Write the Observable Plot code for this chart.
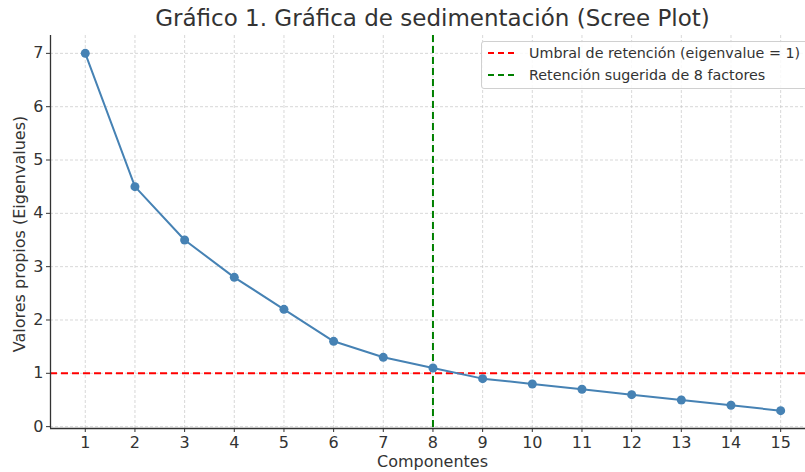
<!DOCTYPE html>
<html>
<head>
<meta charset="utf-8">
<script src="https://cdn.jsdelivr.net/npm/d3@7"></script>
<script src="https://cdn.jsdelivr.net/npm/@observablehq/plot@0.6"></script>
<style>
  html, body { margin: 0; padding: 0; background: #fff; }
  body { width: 805px; height: 472px; overflow: hidden; position: relative; font-family: "DejaVu Sans", sans-serif; color: #333; }
  #title { height: 33px; line-height: 36px; text-align: center; font-size: 23px; color: #333; width: 865px; white-space: nowrap; }
  #xlabel { position: absolute; top: 452px; left: 0; width: 865px; text-align: center; font-size: 16px; color: #333; }
  #ylabel { position: absolute; left: 19px; top: 234px; transform: translate(-50%, -50%) rotate(-90deg); font-size: 16px; white-space: nowrap; color: #333; }
  #legend { position: absolute; left: 481px; top: 41px; width: 340px; height: 46px; border: 1px solid #d0d0d0; border-radius: 3px; background: rgba(255,255,255,0.85); }
  .row { position: absolute; left: 6px; height: 20px; display: flex; align-items: center; font-size: 14.3px; color: #333; white-space: nowrap; }
  .row svg { margin-right: 14px; }
</style>
</head>
<body>
<div id="title">Gráfico 1. Gráfica de sedimentación (Scree Plot)</div>
<div id="chart"></div>
<div id="xlabel">Componentes</div>
<div id="ylabel">Valores propios (Eigenvalues)</div>
<div id="legend"></div>
<script>
const components = [1,2,3,4,5,6,7,8,9,10,11,12,13,14,15];
const eigenvalues = [7.0,4.5,3.5,2.8,2.2,1.6,1.3,1.1,0.9,0.8,0.7,0.6,0.5,0.4,0.3];
const yTicks = [0,1,2,3,4,5,6,7];
const threshold = [1];
const suggested = [8];
const legendLabels = ["Umbral de retención (eigenvalue = 1)", "Retención sugerida de 8 factores"];
const legendColors = ["#ff0000", "#008000"];

const xDomain = [0.3, 15.5];
const yDomain = [-0.035, 7.335];
const data = components.map((c, i) => ({c, v: eigenvalues[i]}));

const chart = Plot.plot({
  width: 805,
  height: 439,
  marginLeft: 50,
  marginRight: 0,
  marginTop: 2,
  marginBottom: 44,
  style: {fontFamily: "DejaVu Sans, sans-serif", color: "#333", background: "transparent", overflow: "visible"},
  x: {domain: xDomain},
  y: {domain: yDomain},
  marks: [
    Plot.gridX(components, {stroke: "#c8c8c8", strokeOpacity: 0.7, strokeDasharray: "3,2"}),
    Plot.gridY(yTicks, {stroke: "#c8c8c8", strokeOpacity: 0.7, strokeDasharray: "3,2"}),
    Plot.axisX(components, {tickSize: 4, tickPadding: 4, fontSize: 16, label: null, tickFormat: "d", stroke: "#333", fill: "#333"}),
    Plot.axisY(yTicks, {tickSize: 4, tickPadding: 3, fontSize: 16, label: null, tickFormat: "d", stroke: "#333", fill: "#333"}),
    Plot.ruleY(threshold, {stroke: "#ff0000", strokeWidth: 2, strokeDasharray: "7,4"}),
    Plot.ruleX(suggested, {stroke: "#008000", strokeWidth: 2, strokeDasharray: "7,4"}),
    Plot.line(data, {x: "c", y: "v", stroke: "#4682b4", strokeWidth: 2}),
    Plot.dot(data, {x: "c", y: "v", fill: "#4682b4", r: 4.5}),
    Plot.ruleX([xDomain[0]], {stroke: "#333", strokeWidth: 1.3}),
    Plot.ruleY([yDomain[0]], {stroke: "#333", strokeWidth: 1.3})
  ]
});
document.getElementById("chart").appendChild(chart);

const legend = document.getElementById("legend");
legendLabels.forEach((lab, i) => {
  const row = document.createElement("div");
  row.className = "row";
  row.style.top = (1 + i * 22) + "px";
  row.innerHTML = `<svg width="27" height="6"><line x1="0" y1="3" x2="27" y2="3" stroke="${legendColors[i]}" stroke-width="2" stroke-dasharray="6,4"/></svg><span>${lab}</span>`;
  legend.appendChild(row);
});
</script>
</body>
</html>
